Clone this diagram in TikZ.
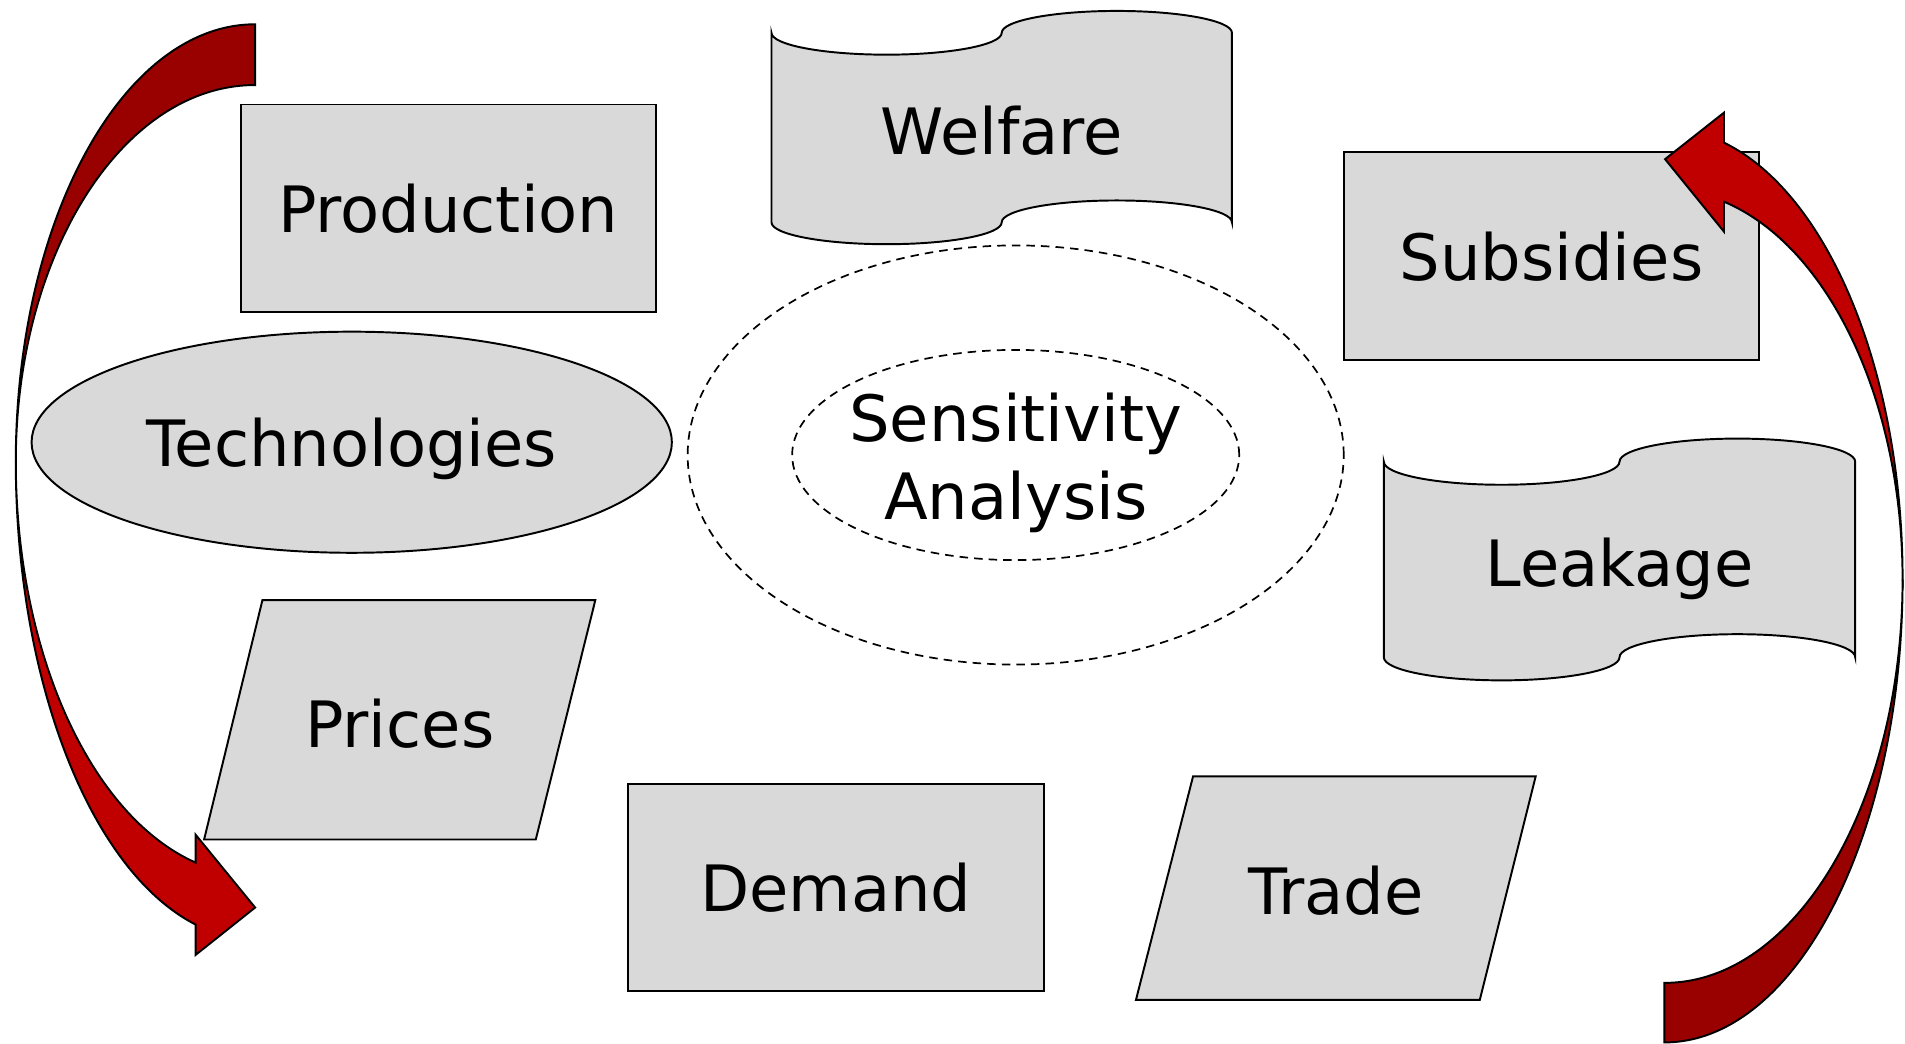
\documentclass[tikz,border=0pt]{standalone}
\usepackage{fontspec}
\setmainfont{DejaVu Sans}
\usetikzlibrary{shapes.geometric}
\definecolor{boxgray}{HTML}{D9D9D9}
\definecolor{arrowdark}{HTML}{990000}
\definecolor{arrowbright}{HTML}{C00000}

\begin{document}
\begin{tikzpicture}[x=0.5pt,y=0.5pt,
  shapebox/.style={draw=black, fill=boxgray, line width=0.8pt},
  txt/.style={font=\fontsize{26.3}{32}\selectfont, align=center, inner sep=0pt,
    text height=20pt, text depth=0pt},
  recbox/.style={shapebox, txt, rectangle, minimum width=171pt, minimum height=85.5pt},
  ovalbox/.style={shapebox, txt, ellipse, minimum width=263.5pt, minimum height=91pt},
  ring/.style={draw=black, line width=0.7pt, dash pattern=on 3.5pt off 2.5pt},
  backface/.style={draw=black, fill=arrowdark, line width=0.8pt, line join=miter},
  frontface/.style={draw=black, fill=arrowbright, line width=0.8pt, line join=miter}
]
\useasboundingbox (0,0) rectangle (1568,859);

% plain boxes
\node[recbox] (production) at (369,687.5) {Production};
\node[recbox] (subsidies) at (1277,648.5) {Subsidies};
\node[recbox] (demand) at (688,128.5) {Demand};

% oval
\node[ovalbox] (technologies) at (289.5,495) {Technologies};

% slanted boxes
\draw[shapebox] (216,365) -- (490,365) -- (441,168) -- (168,168) -- cycle;
\node[txt] (prices) at (329,263.5) {Prices};
\draw[shapebox] (982,220) -- (1264,220) -- (1218,36) -- (935,36) -- cycle;
\node[txt] (trade) at (1099.5,126) {Trade};

% wavy (punched tape) boxes
\draw[shapebox] (635,832)
  arc[start angle=180, end angle=360, x radius=94.75, y radius=18]
  arc[start angle=180, end angle=0, x radius=94.75, y radius=18]
  -- (1014,676)
  arc[start angle=0, end angle=180, x radius=94.75, y radius=18]
  arc[start angle=0, end angle=-180, x radius=94.75, y radius=18]
  -- cycle;
\node[txt] (welfare) at (824.5,752) {Welfare};

\draw[shapebox] (1139,479)
  arc[start angle=180, end angle=360, x radius=97, y radius=19]
  arc[start angle=180, end angle=0, x radius=97, y radius=19]
  -- (1527,318)
  arc[start angle=0, end angle=180, x radius=97, y radius=19]
  arc[start angle=0, end angle=-180, x radius=97, y radius=19]
  -- cycle;
\node[txt] (leakage) at (1333,396) {Leakage};

% central dashed rings
\draw[ring] (836,484.5) ellipse [x radius=270, y radius=172.5];
\draw[ring] (836,484.5) ellipse [x radius=184, y radius=86.5];
\node[txt, text height=52pt] (sensitivity) at (836,483.5) {Sensitivity\\Analysis};

% left curved arrow: back face, then front face with head
\draw[backface] (210,839)
  arc[start angle=90, end angle=180, x radius=197, y radius=360]
  arc[start angle=180, end angle=90, x radius=197, y radius=310]
  -- cycle;
\draw[frontface] (13,479)
  arc[start angle=180, end angle=255.6, x radius=197, y radius=393.4]
  -- (161,73) -- (210,112) -- (161,172) -- (161,149)
  arc[start angle=255.6, end angle=180, x radius=197, y radius=340.7]
  -- cycle;

% right curved arrow: back face, then front face with head
\draw[backface] (1370,1)
  arc[start angle=270, end angle=360, x radius=196, y radius=381]
  arc[start angle=0, end angle=-90, x radius=196, y radius=332]
  -- cycle;
\draw[frontface] (1566,382)
  arc[start angle=0, end angle=75.52, x radius=196, y radius=371.4]
  -- (1419,766.3) -- (1370.5,728) -- (1419,668.3) -- (1419,693)
  arc[start angle=75.52, end angle=0, x radius=196, y radius=321.2]
  -- cycle;
\end{tikzpicture}
\end{document}
